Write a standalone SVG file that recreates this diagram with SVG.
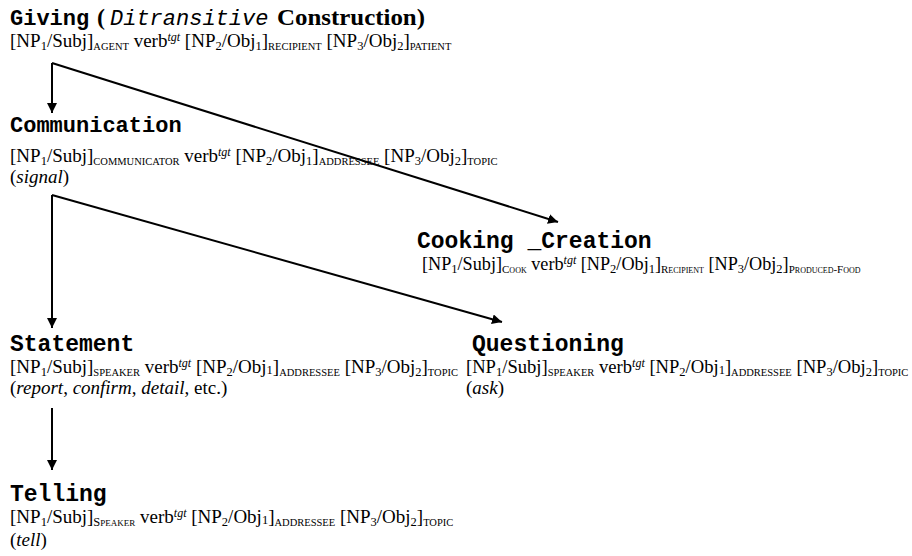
<svg xmlns="http://www.w3.org/2000/svg" width="912" height="556" viewBox="0 0 912 556">
<style>
.h{font-family:"Liberation Mono","Courier New",monospace;font-weight:bold;font-size:23px;fill:#000}
.h2{font-size:22px}
.t{font-family:"Liberation Serif","Times New Roman",serif;font-size:19px;fill:#000}
.t2{font-size:18.6px}
.t3{font-size:18.2px}
.tb{font-family:"Liberation Serif","Times New Roman",serif;font-weight:bold;font-size:24px;fill:#000}
.hi{font-family:"Liberation Mono","Courier New",monospace;font-style:italic;font-weight:normal;font-size:22px;fill:#000}
.n{font-size:12.5px}
.s{font-size:10.5px}
.sc{font-size:12.5px;font-variant:small-caps}
.sc2{font-size:11px;font-variant:small-caps}
.sup{font-size:12px;font-style:italic}
.i{font-style:italic}
.c{stroke:#000;stroke-width:2;fill:none}
</style>
<defs>
<marker id="ah" viewBox="0 0 10 10" refX="10" refY="5" markerWidth="5" markerHeight="5" orient="auto" markerUnits="strokeWidth">
<path d="M0,0 L10,5 L0,10 z" fill="#000"/>
</marker>
</defs>
<g id="connectors">
<path class="c" d="M52,63 L52,113" marker-end="url(#ah)"/>
<path class="c" d="M52,63 L558,222" marker-end="url(#ah)"/>
<path class="c" d="M52,195 L52,328" marker-end="url(#ah)"/>
<path class="c" d="M52,195 L502,322" marker-end="url(#ah)"/>
<path class="c" d="M52,408 L52,470" marker-end="url(#ah)"/>
</g>
<g id="giving">
<text x="10" y="25" class="h h2">Giving</text>
<text x="97" y="25" class="tb">(</text>
<text x="110" y="25" class="hi">Ditransitive</text>
<text x="277" y="25" class="tb" textLength="148" lengthAdjust="spacingAndGlyphs">Construction)</text>
<text x="10" y="47" class="t">[NP<tspan class="n" dy="3">1</tspan><tspan dy="-3">/Subj]</tspan><tspan class="s" dy="3">AGENT</tspan><tspan dy="-3"> verb</tspan><tspan class="sup" dy="-6">tgt</tspan><tspan dy="6"> [NP</tspan><tspan class="n" dy="3">2</tspan><tspan dy="-3">/Obj</tspan><tspan class="n" dy="3">1</tspan><tspan dy="-3">]</tspan><tspan class="s" dy="3">RECIPIENT</tspan><tspan dy="-3"> [NP</tspan><tspan class="n" dy="3">3</tspan><tspan dy="-3">/Obj</tspan><tspan class="n" dy="3">2</tspan><tspan dy="-3">]</tspan><tspan class="s" dy="3">PATIENT</tspan></text>
</g>
<g id="communication">
<text x="10" y="132" class="h h2">Communication</text>
<text x="10" y="162" class="t">[NP<tspan class="n" dy="3">1</tspan><tspan dy="-3">/Subj]</tspan><tspan class="s" dy="3">COMMUNICATOR</tspan><tspan dy="-3"> verb</tspan><tspan class="sup" dy="-6">tgt</tspan><tspan dy="6"> [NP</tspan><tspan class="n" dy="3">2</tspan><tspan dy="-3">/Obj</tspan><tspan class="n" dy="3">1</tspan><tspan dy="-3">]</tspan><tspan class="s" dy="3">ADDRESSEE</tspan><tspan dy="-3"> [NP</tspan><tspan class="n" dy="3">3</tspan><tspan dy="-3">/Obj</tspan><tspan class="n" dy="3">2</tspan><tspan dy="-3">]</tspan><tspan class="s" dy="3">TOPIC</tspan></text>
<text x="10" y="183" class="t">(<tspan class="i">signal</tspan>)</text>
</g>
<g id="cooking">
<text x="417" y="248" class="h">Cooking _Creation</text>
<text x="422" y="270" class="t t3">[NP<tspan class="n" dy="3">1</tspan><tspan dy="-3">/Subj]</tspan><tspan class="sc2" dy="3">Cook</tspan><tspan dy="-3"> verb</tspan><tspan class="sup" dy="-6">tgt</tspan><tspan dy="6"> [NP</tspan><tspan class="n" dy="3">2</tspan><tspan dy="-3">/Obj</tspan><tspan class="n" dy="3">1</tspan><tspan dy="-3">]</tspan><tspan class="sc2" dy="3">Recipient</tspan><tspan dy="-3"> [NP</tspan><tspan class="n" dy="3">3</tspan><tspan dy="-3">/Obj</tspan><tspan class="n" dy="3">2</tspan><tspan dy="-3">]</tspan><tspan class="sc2" dy="3">Produced-Food</tspan></text>
</g>
<g id="statement">
<text x="10" y="351" class="h">Statement</text>
<text x="10" y="373" class="t">[NP<tspan class="n" dy="3">1</tspan><tspan dy="-3">/Subj]</tspan><tspan class="s" dy="3">SPEAKER</tspan><tspan dy="-3"> verb</tspan><tspan class="sup" dy="-6">tgt</tspan><tspan dy="6"> [NP</tspan><tspan class="n" dy="3">2</tspan><tspan dy="-3">/Obj</tspan><tspan class="n" dy="1">1</tspan><tspan dy="-1">]</tspan><tspan class="s" dy="3">ADDRESSEE</tspan><tspan dy="-3"> [NP</tspan><tspan class="n" dy="3">3</tspan><tspan dy="-3">/Obj</tspan><tspan class="n" dy="3">2</tspan><tspan dy="-3">]</tspan><tspan class="s" dy="3">TOPIC</tspan></text>
<text x="10" y="394" class="t">(<tspan class="i">report</tspan>, <tspan class="i">confirm</tspan>, <tspan class="i">detail</tspan>, etc.)</text>
</g>
<g id="questioning">
<text x="472" y="351" class="h">Questioning</text>
<text x="466" y="373" class="t t2">[NP<tspan class="n" dy="3">1</tspan><tspan dy="-3">/Subj]</tspan><tspan class="s" dy="3">SPEAKER</tspan><tspan dy="-3"> verb</tspan><tspan class="sup" dy="-6">tgt</tspan><tspan dy="6"> [NP</tspan><tspan class="n" dy="3">2</tspan><tspan dy="-3">/Obj</tspan><tspan class="n" dy="1">1</tspan><tspan dy="-1">]</tspan><tspan class="s" dy="3">ADDRESSEE</tspan><tspan dy="-3"> [NP</tspan><tspan class="n" dy="3">3</tspan><tspan dy="-3">/Obj</tspan><tspan class="n" dy="3">2</tspan><tspan dy="-3">]</tspan><tspan class="s" dy="3">TOPIC</tspan></text>
<text x="466" y="394" class="t">(<tspan class="i">ask</tspan>)</text>
</g>
<g id="telling">
<text x="10" y="501" class="h">Telling</text>
<text x="10" y="523" class="t">[NP<tspan class="n" dy="3">1</tspan><tspan dy="-3">/Subj]</tspan><tspan class="sc" dy="3">Speaker</tspan><tspan dy="-3"> verb</tspan><tspan class="sup" dy="-6">tgt</tspan><tspan dy="6"> [NP</tspan><tspan class="n" dy="3">2</tspan><tspan dy="-3">/Obj</tspan><tspan class="n" dy="1">1</tspan><tspan dy="-1">]</tspan><tspan class="s" dy="3">ADDRESSEE</tspan><tspan dy="-3"> [NP</tspan><tspan class="n" dy="3">3</tspan><tspan dy="-3">/Obj</tspan><tspan class="n" dy="3">2</tspan><tspan dy="-3">]</tspan><tspan class="s" dy="3">TOPIC</tspan></text>
<text x="10" y="546" class="t">(<tspan class="i">tell</tspan>)</text>
</g>
</svg>
